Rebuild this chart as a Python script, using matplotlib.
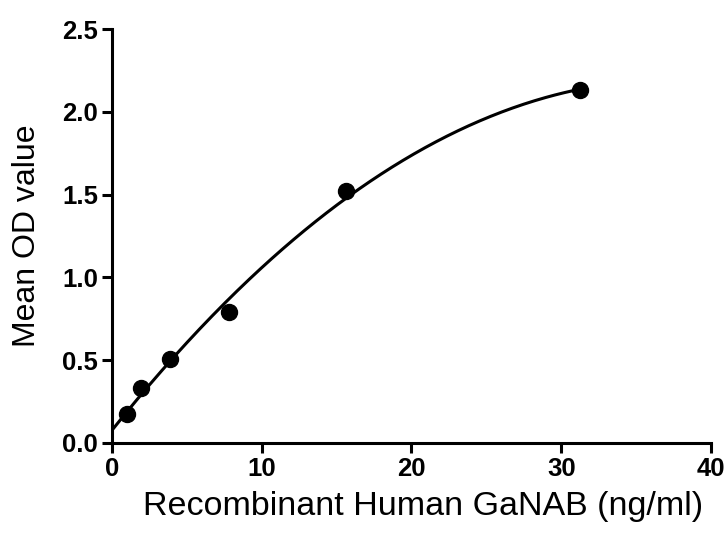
import numpy as np
import matplotlib.pyplot as plt

conc = [0.98, 1.95, 3.9, 7.8, 15.6, 31.25]
od = [0.173, 0.334, 0.507, 0.790, 1.522, 2.130]

# smooth standard curve fitted through the points
coef = np.polyfit(conc, od, 2)
xfit = np.linspace(0, max(conc), 300)
yfit = np.polyval(coef, xfit)

plt.rcParams['font.family'] = ['Liberation Sans', 'DejaVu Sans']
fig = plt.figure(figsize=(7.27, 5.38), dpi=100)
ax = fig.add_axes([0.154, 0.1766, 0.824, 0.7694])

ax.plot(xfit, yfit, color='black', lw=2.2)
ax.plot(conc, od, 'o', color='black', ms=11.5)

ax.set_xlim(0, 40)
ax.set_ylim(0, 2.5)
ax.set_xticks([0, 10, 20, 30, 40])
ax.set_yticks([0, 0.5, 1.0, 1.5, 2.0, 2.5])
ax.set_yticklabels(['0.0', '0.5', '1.0', '1.5', '2.0', '2.5'])
for s in ['top', 'right']:
    ax.spines[s].set_visible(False)
for s in ['left', 'bottom']:
    ax.spines[s].set_linewidth(2.2)
ax.tick_params(width=2.2, length=7, labelsize=18.5, pad=3)
for lab in ax.get_xticklabels() + ax.get_yticklabels():
    lab.set_fontweight('bold')
ax.set_xlabel('Recombinant Human GaNAB (ng/ml)', fontsize=24.5)
ax.xaxis.set_label_coords(0.52, -0.115)
ax.set_ylabel('Mean OD value', fontsize=23)
ax.yaxis.set_label_coords(-0.117, 0.5)

fig.savefig('out.png', dpi=100)
